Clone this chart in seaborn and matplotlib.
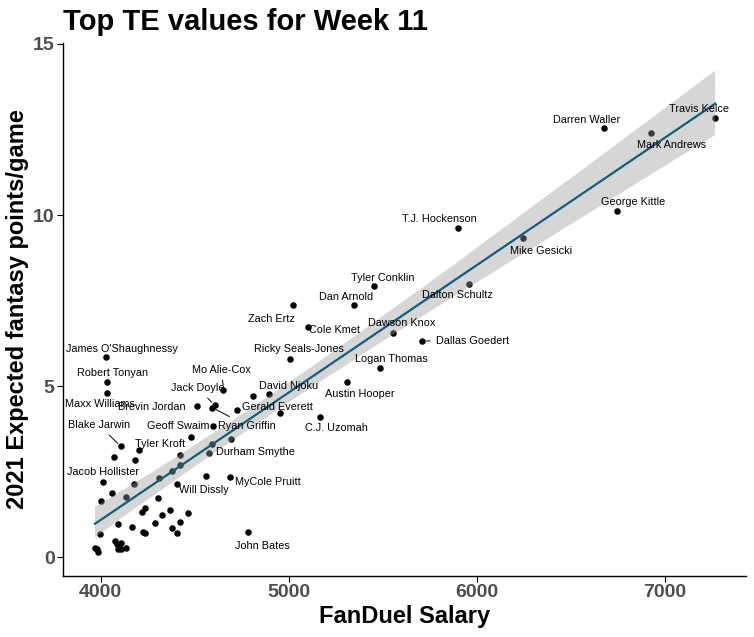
import numpy as np
import pandas as pd
import matplotlib
matplotlib.use("Agg")
import matplotlib.pyplot as plt
import seaborn as sns

# Jogadores com nome no grafico
players = ["Travis Kelce", "Darren Waller", "Mark Andrews", "George Kittle",
           "T.J. Hockenson", "Mike Gesicki", "Dalton Schultz", "Tyler Conklin",
           "Dan Arnold", "Zach Ertz", "Cole Kmet", "Dawson Knox", "Dallas Goedert",
           "Ricky Seals-Jones", "Logan Thomas", "Austin Hooper", "David Njoku",
           "Gerald Everett", "C.J. Uzomah", "Mo Alie-Cox", "Jack Doyle",
           "Ryan Griffin", "Geoff Swaim", "Brevin Jordan", "Maxx Williams",
           "Robert Tonyan", "James O'Shaughnessy", "Blake Jarwin", "Tyler Kroft",
           "Jacob Hollister", "Durham Smythe", "MyCole Pruitt", "Will Dissly",
           "John Bates"]
salary = [7266, 6673, 6926, 6747, 5897, 6243, 5956, 5455, 5345, 5021, 5101, 5552,
          5710, 5005, 5483, 5312, 4894, 4724, 5164, 4653, 4607, 4593, 4596, 4511,
          4034, 4034, 4030, 4108, 4203, 4012, 4577, 4687, 4405, 4782]
exp_points = [12.83, 12.53, 12.39, 10.11, 9.62, 9.33, 7.97, 7.94, 7.36, 7.36, 6.72,
              6.55, 6.32, 5.78, 5.52, 5.11, 4.76, 4.31, 4.09, 4.90, 4.44, 4.37, 3.82,
              4.41, 4.79, 5.11, 5.84, 3.24, 3.13, 2.21, 3.04, 2.35, 2.13, 0.75]

# Jogadores sem rotulo
other_salary = [4071, 4060, 4004, 3998, 3970, 3982, 3985, 4076, 4088, 4097, 4094,
                4106, 4133, 4106, 4092, 4165, 4227, 4237, 4220, 4237, 4288, 4326,
                4368, 4304, 4379, 4405, 4421, 4467, 4134, 4177, 4182, 4310, 4377,
                4421, 4421, 4480, 4559, 4593, 4692, 4809, 4952]
other_points = [2.94, 1.89, 1.63, 0.67, 0.28, 0.23, 0.15, 0.48, 0.38, 0.30, 0.23,
                0.25, 0.27, 0.42, 0.98, 0.87, 0.75, 0.71, 1.32, 1.45, 1.01, 1.22,
                1.39, 1.73, 0.84, 0.70, 1.04, 1.28, 1.75, 2.15, 2.84, 2.31, 2.51,
                2.70, 3.00, 3.50, 2.37, 3.30, 3.45, 4.70, 4.20]

# Deslocamento dos rotulos (pixels) e quais levam segmento
label_offsets = {
    "Travis Kelce": (-16, 9), "Darren Waller": (-17, 8), "Mark Andrews": (20, -12),
    "George Kittle": (16, 9), "T.J. Hockenson": (-18, 9), "Mike Gesicki": (18, -13),
    "Dalton Schultz": (-11, -11), "Tyler Conklin": (8, 8), "Dan Arnold": (-8, 8),
    "Zach Ertz": (-21, -14), "Cole Kmet": (27, -3), "Dawson Knox": (9, 10),
    "Dallas Goedert": (50, 0), "Ricky Seals-Jones": (9, 10), "Logan Thomas": (12, 9),
    "Austin Hooper": (12, -12), "David Njoku": (20, 8), "Gerald Everett": (41, 3),
    "C.J. Uzomah": (17, -11), "Mo Alie-Cox": (-2, 20), "Jack Doyle": (-17, 17),
    "Ryan Griffin": (35, -18), "Geoff Swaim": (-35, 0), "Brevin Jordan": (-45, -1),
    "Maxx Williams": (-7, -11), "Robert Tonyan": (6, 9),
    "James O'Shaughnessy": (16, 8), "Blake Jarwin": (-22, 21), "Tyler Kroft": (21, 6),
    "Jacob Hollister": (0, 10), "Durham Smythe": (46, 1), "MyCole Pruitt": (38, -5),
    "Will Dissly": (27, -6), "John Bates": (15, -14),
}
with_segment = {"Dallas Goedert", "Mo Alie-Cox", "Jack Doyle", "Ryan Griffin",
                "Blake Jarwin"}

df = pd.DataFrame({
    "salary": salary + other_salary,
    "points": exp_points + other_points,
})

plt.rcParams["font.family"] = ["Liberation Sans", "DejaVu Sans"]

fig = plt.figure(figsize=(7.54, 6.37), dpi=100)
ax = fig.add_axes([63 / 754, 1 - 576 / 637, 683 / 754, (576 - 42.6) / 637])

sns.scatterplot(data=df, x="salary", y="points", color="black", s=22,
                linewidth=0, ax=ax, zorder=2)
sns.regplot(data=df, x="salary", y="points", scatter=False, ci=95, seed=11,
            color="#125D80", line_kws=dict(lw=1.6, zorder=4), ax=ax)

# faixa de confianca cinza por cima dos pontos
for coll in ax.collections[1:]:
    coll.set_facecolor("#999999")
    coll.set_alpha(0.4)
    coll.set_edgecolor("none")
    coll.set_zorder(3)

for name, sx, py in zip(players, salary, exp_points):
    dx, dy = label_offsets[name]
    kw = {}
    if name in with_segment:
        kw["arrowprops"] = dict(arrowstyle="-", color="black", lw=0.7,
                                shrinkA=2, shrinkB=3)
    ax.annotate(name, xy=(sx, py), xytext=(dx, dy), textcoords="offset pixels",
                ha="center", va="center", fontsize=7.8, color="black",
                zorder=5, **kw)

ax.set_xlim(3800, 7430)
ax.set_ylim(-0.55, 15.04)
ax.set_xticks([4000, 5000, 6000, 7000])
ax.set_yticks([0, 5, 10, 15])

for side in ["top", "right"]:
    ax.spines[side].set_visible(False)
for side in ["left", "bottom"]:
    ax.spines[side].set_linewidth(1.0)
    ax.spines[side].set_color("black")

ax.tick_params(axis="both", length=4, width=0.8, color="black",
               labelsize=14, labelcolor="#4D4D4D", pad=2)
for lab in ax.get_xticklabels() + ax.get_yticklabels():
    lab.set_fontweight("bold")

ax.set_xlabel("FanDuel Salary", fontsize=17, fontweight="bold", labelpad=3)
ax.set_ylabel("2021 Expected fantasy points/game", fontsize=17,
              fontweight="bold", labelpad=3)
ax.set_title("Top TE values for Week 11", loc="left", fontsize=21,
             fontweight="bold", pad=9)

fig.savefig("out.png", dpi=100)
